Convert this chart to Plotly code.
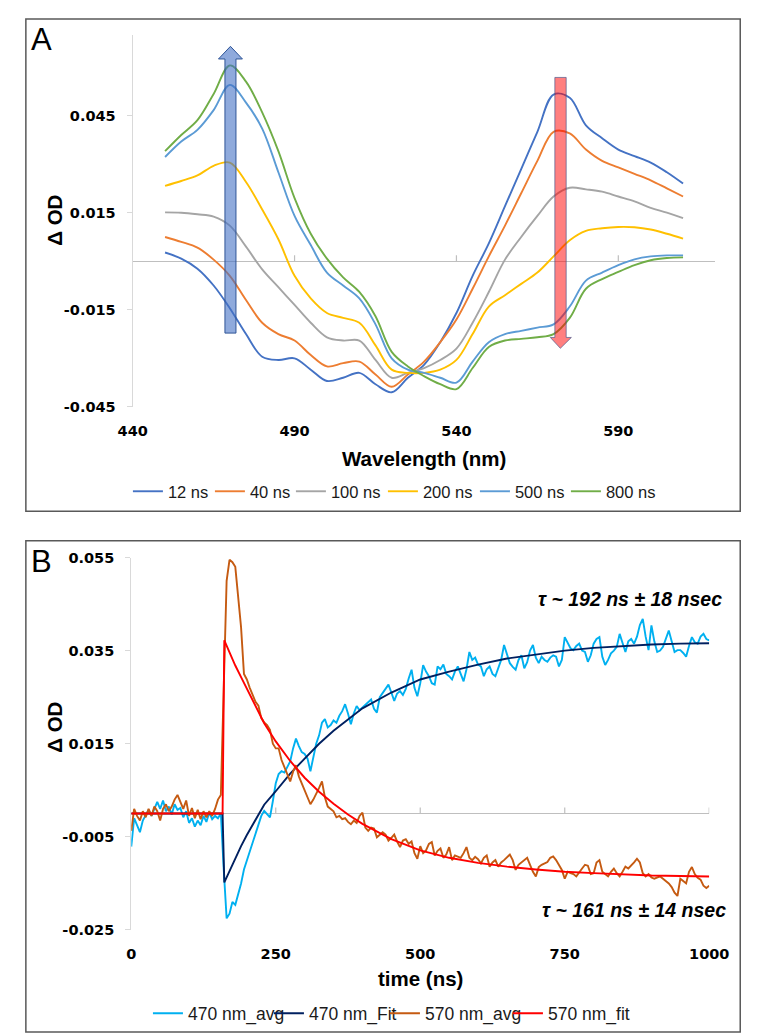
import plotly.graph_objects as go

W, H = 757, 1036

# ---------------- Panel A data ----------------
wavelength = [450, 455, 460, 465, 470, 475, 480, 485, 490, 495, 500, 505, 510, 515, 520, 525,
              530, 535, 540, 545, 550, 555, 560, 565, 570, 575, 580, 585, 590, 595, 600, 605, 610]

od_12ns = [0.0027, 0.0008, -0.0023, -0.0075, -0.0145, -0.0225, -0.0295, -0.0305, -0.0300, -0.0335,
           -0.0370, -0.0360, -0.0345, -0.0380, -0.0405, -0.0360, -0.0320, -0.0250, -0.0160, -0.0045,
           0.0055, 0.0170, 0.0285, 0.0400, 0.0515, 0.0505, 0.0420, 0.0380, 0.0345, 0.0325, 0.0305,
           0.0275, 0.0240]
od_40ns = [0.0075, 0.0060, 0.0042, 0.0005, -0.0045, -0.0120, -0.0190, -0.0225, -0.0245, -0.0290,
           -0.0325, -0.0315, -0.0310, -0.0350, -0.0388, -0.0350, -0.0310, -0.0250, -0.0180, -0.0085,
           0.0015, 0.0110, 0.0210, 0.0310, 0.0400, 0.0395, 0.0345, 0.0310, 0.0290, 0.0270, 0.0250,
           0.0225, 0.0200]
od_100ns = [0.0151, 0.0150, 0.0145, 0.0138, 0.0110, 0.0045, -0.0025, -0.0080, -0.0135, -0.0190,
            -0.0235, -0.0245, -0.0245, -0.0305, -0.0360, -0.0345, -0.0330, -0.0305, -0.0270, -0.0190,
            -0.0095, 0.0005, 0.0075, 0.0140, 0.0200, 0.0227, 0.0222, 0.0215, 0.0200, 0.0185, 0.0165,
            0.0150, 0.0133]
od_200ns = [0.0233, 0.0248, 0.0265, 0.0295, 0.0305, 0.0245, 0.0160, 0.0068, -0.0045, -0.0115,
            -0.0160, -0.0175, -0.0190, -0.0260, -0.0335, -0.0345, -0.0345, -0.0335, -0.0305, -0.0225,
            -0.0140, -0.0105, -0.0070, -0.0035, 0.0015, 0.0065, 0.0094, 0.0102, 0.0106, 0.0105,
            0.0098, 0.0085, 0.0070]
od_500ns = [0.0322, 0.0370, 0.0406, 0.0467, 0.0545, 0.0490, 0.0410, 0.0275, 0.0140, 0.0050,
            -0.0035, -0.0075, -0.0115, -0.0195, -0.0300, -0.0335, -0.0345, -0.0360, -0.0375, -0.0310,
            -0.0250, -0.0225, -0.0215, -0.0205, -0.0195, -0.0140, -0.0060, -0.0035, -0.0012, 0.0006,
            0.0015, 0.0018, 0.0018]
od_800ns = [0.0340, 0.0390, 0.0436, 0.0517, 0.0605, 0.0555, 0.0460, 0.0340, 0.0195, 0.0085,
            0.0008, -0.0050, -0.0095, -0.0170, -0.0280, -0.0325, -0.0355, -0.0380, -0.0395, -0.0330,
            -0.0265, -0.0245, -0.0240, -0.0235, -0.0225, -0.0175, -0.0085, -0.0055, -0.0033, -0.0012,
            0.0003, 0.0010, 0.0012]

series_A_names = ["12 ns", "40 ns", "100 ns", "200 ns", "500 ns", "800 ns"]
series_A_values = [od_12ns, od_40ns, od_100ns, od_200ns, od_500ns, od_800ns]
series_A_colors = ["#4472C4", "#ED7D31", "#A5A5A5", "#FFC000", "#5B9BD5", "#70AD47"]
legend_A_widths = [37, 36, 47, 47, 46, 48]

xA_tickvals = [440, 490, 540, 590]
xA_ticktext = ["440", "490", "540", "590"]
yA_tickvals = [-0.045, -0.015, 0.015, 0.045]
yA_ticktext = ["-0.045", "-0.015", "0.015", "0.045"]

# ---------------- Panel B data ----------------
time_ns = list(range(0, 1001, 5))

nm470_avg = [
    -0.0071, -0.0010, -0.0025, -0.0040, -0.0015, -0.0005, 0.0008, -0.0005, 0.0012, 0.0025,
    0.0010, 0.0028, 0.0005, 0.0015, -0.0002, 0.0020, 0.0008, 0.0012, -0.0008, 0.0005,
    -0.0020, -0.0010, -0.0028, -0.0015, -0.0025, -0.0005, -0.0018, 0.0002, -0.0012, -0.0005,
    -0.0010, 0.0000,
    -0.0120, -0.0225, -0.0215, -0.0190, -0.0196, -0.0175, -0.0150, -0.0120, -0.0100, -0.0080,
    -0.0062, -0.0042, -0.0025, -0.0005, 0.0006, -0.0002, -0.0008, 0.0027,
    0.0065, 0.0085, 0.0091, 0.0088, 0.0100, 0.0112, 0.0140, 0.0161, 0.0145, 0.0132,
    0.0128, 0.0118, 0.0091, 0.0120, 0.0150, 0.0168, 0.0195, 0.0203, 0.0185, 0.0190,
    0.0200, 0.0195, 0.0210, 0.0220, 0.0235, 0.0215, 0.0192, 0.0215, 0.0231, 0.0222,
    0.0228, 0.0235, 0.0240, 0.0245, 0.0225, 0.0217, 0.0250, 0.0259, 0.0270, 0.0277,
    0.0260, 0.0242, 0.0258, 0.0263, 0.0255, 0.0268, 0.0290, 0.0309, 0.0270, 0.0252,
    0.0280, 0.0319, 0.0305, 0.0295, 0.0280, 0.0277, 0.0316, 0.0310, 0.0320, 0.0300,
    0.0295, 0.0288, 0.0305, 0.0316, 0.0300, 0.0284, 0.0310, 0.0347, 0.0330, 0.0335,
    0.0320, 0.0316, 0.0295, 0.0310, 0.0316, 0.0300, 0.0295, 0.0312, 0.0330, 0.0362,
    0.0340, 0.0323, 0.0315, 0.0309, 0.0330, 0.0340, 0.0312, 0.0325, 0.0350, 0.0362,
    0.0335, 0.0323, 0.0337, 0.0330, 0.0326, 0.0335, 0.0340, 0.0337, 0.0316, 0.0330,
    0.0379, 0.0368, 0.0355, 0.0351, 0.0360, 0.0365, 0.0350, 0.0347, 0.0326, 0.0340,
    0.0365, 0.0375, 0.0379, 0.0337, 0.0319, 0.0330, 0.0344, 0.0350, 0.0358, 0.0386,
    0.0365, 0.0347, 0.0370, 0.0375, 0.0365, 0.0380, 0.0405, 0.0418, 0.0380, 0.0351,
    0.0404, 0.0370, 0.0347, 0.0350, 0.0358, 0.0375, 0.0393, 0.0370, 0.0347, 0.0351,
    0.0351, 0.0345, 0.0337, 0.0360, 0.0379, 0.0368, 0.0365, 0.0380, 0.0386, 0.0375,
    0.0372]

nm570_avg = [
    -0.0037, 0.0010, -0.0005, -0.0015, 0.0005, -0.0008, 0.0010, -0.0005, 0.0015, 0.0005,
    -0.0015, 0.0010, 0.0020, 0.0005, 0.0015, 0.0030, 0.0040, 0.0025, 0.0010, 0.0028,
    -0.0005, 0.0012, -0.0010, 0.0008, -0.0012, 0.0005, -0.0008, 0.0005, -0.0005, 0.0010,
    0.0030, 0.0040,
    0.0300, 0.0500, 0.0545, 0.0540, 0.0530, 0.0470, 0.0400, 0.0300, 0.0288, 0.0270,
    0.0255, 0.0240, 0.0232, 0.0205, 0.0196, 0.0190, 0.0180, 0.0150,
    0.0140, 0.0140, 0.0115, 0.0100, 0.0085, 0.0069, 0.0090, 0.0104, 0.0080, 0.0065,
    0.0048, 0.0035, 0.0020, 0.0030, 0.0041, 0.0055, 0.0069, 0.0035, 0.0015, 0.0009,
    0.0005, -0.0008, -0.0005, -0.0012, -0.0010, -0.0018, -0.0023, -0.0015, -0.0020, -0.0005,
    0.0002, -0.0030, -0.0037, -0.0030, -0.0032, -0.0051, -0.0045, -0.0040, -0.0045, -0.0058,
    -0.0052, -0.0045, -0.0060, -0.0072, -0.0058, -0.0055, -0.0065, -0.0060, -0.0085, -0.0097,
    -0.0070, -0.0085, -0.0079, -0.0065, -0.0061, -0.0090, -0.0080, -0.0075, -0.0095, -0.0088,
    -0.0072, -0.0100, -0.0090, -0.0093, -0.0095, -0.0085, -0.0072, -0.0095, -0.0100, -0.0093,
    -0.0098, -0.0107, -0.0095, -0.0090, -0.0114, -0.0105, -0.0100, -0.0114, -0.0105, -0.0100,
    -0.0093, -0.0088, -0.0100, -0.0121, -0.0110, -0.0105, -0.0100, -0.0095, -0.0110, -0.0125,
    -0.0135, -0.0115, -0.0110, -0.0107, -0.0104, -0.0095, -0.0092, -0.0100, -0.0110, -0.0121,
    -0.0140, -0.0125, -0.0128, -0.0130, -0.0135, -0.0125, -0.0118, -0.0110, -0.0112, -0.0130,
    -0.0128, -0.0105, -0.0100, -0.0125, -0.0130, -0.0135, -0.0125, -0.0118, -0.0128, -0.0135,
    -0.0125, -0.0114, -0.0118, -0.0112, -0.0105, -0.0097, -0.0105, -0.0128, -0.0135, -0.0130,
    -0.0137, -0.0140, -0.0138, -0.0135, -0.0140, -0.0145, -0.0150, -0.0158, -0.0170, -0.0177,
    -0.0140, -0.0145, -0.0150, -0.0125, -0.0115, -0.0130, -0.0138, -0.0142, -0.0155, -0.0160,
    -0.0155]

fit_time = [0, 158, 161, 170, 180, 190, 200, 215, 230, 250, 275, 300, 325, 350, 375, 400,
            450, 500, 550, 600, 650, 700, 750, 800, 850, 900, 950, 1000]
nm470_fit = [0.0, 0.0, -0.0148, -0.0123, -0.0096, -0.0070, -0.0046, -0.0012, 0.0019, 0.0048,
             0.0086, 0.0118, 0.0150, 0.0178, 0.0203, 0.0226, 0.0260, 0.0288, 0.0305, 0.0320,
             0.0333, 0.0342, 0.0350, 0.0356, 0.0360, 0.0363, 0.0365, 0.0366]
nm570_fit = [0.0, 0.0, 0.0372, 0.0345, 0.0318, 0.0293, 0.0268, 0.0228, 0.0194, 0.0155,
             0.0113, 0.0077, 0.0047, 0.0021, -0.0002, -0.0022, -0.0055, -0.0079, -0.0095, -0.0106,
             -0.0114, -0.0120, -0.0125, -0.0128, -0.0131, -0.0133, -0.0134, -0.0135]

xB_tickvals = [0, 250, 500, 750, 1000]
xB_ticktext = ["0", "250", "500", "750", "1000"]
yB_tickvals = [-0.025, -0.005, 0.015, 0.035, 0.055]
yB_ticktext = ["-0.025", "-0.005", "0.015", "0.035", "0.055"]

series_B = [
    ("470 nm_avg", time_ns, nm470_avg, "#00B0F0", 76),
    ("470 nm_Fit", fit_time, nm470_fit, "#002060", 71),
    ("570 nm_avg", time_ns, nm570_avg, "#C55A11", 78),
    ("570 nm_fit", fit_time, nm570_fit, "#FF0000", 80),
]

# ---------------- helpers ----------------
def px(x):
    return x / W

def py(y):
    return 1 - y / H

TICK_FONT = dict(family="DejaVu Sans", size=14.5, color="#000000", weight="bold")
TITLE_FONT = dict(family="Liberation Sans", size=20.5, color="#000000", weight="bold")

fig = go.Figure()

for name, vals, col, lw in zip(series_A_names, series_A_values, series_A_colors, legend_A_widths):
    fig.add_trace(go.Scatter(x=wavelength, y=vals, mode="lines", name=name,
                             line=dict(color=col, width=1.9, shape="spline", smoothing=1.0),
                             xaxis="x", yaxis="y", legend="legend", legendwidth=lw))

for name, xs, ys, col, lw in series_B:
    fig.add_trace(go.Scatter(x=xs, y=ys, mode="lines", name=name,
                             line=dict(color=col, width=1.9), xaxis="x2", yaxis="y2",
                             legend="legend2", legendwidth=lw))

common_x = dict(showgrid=False, zeroline=False, showline=False, ticks="", tickfont=TICK_FONT,
                ticklabelstandoff=14, tickmode="array")
common_y = dict(showgrid=False, showline=True, linecolor="#D9D9D9", linewidth=1.2,
                ticks="outside", ticklen=5, tickcolor="#D9D9D9", tickwidth=1.2,
                zeroline=True, zerolinecolor="#BFBFBF", zerolinewidth=1.2,
                tickfont=TICK_FONT, ticklabelstandoff=8, tickmode="array")

fig.update_layout(
    width=W, height=H, autosize=False,
    margin=dict(l=0, r=0, t=0, b=0),
    paper_bgcolor="white", plot_bgcolor="white",
    xaxis=dict(domain=[px(115), px(726)], range=[440, 620], anchor="y",
               tickvals=xA_tickvals, ticktext=xA_ticktext, **common_x),
    yaxis=dict(domain=[py(397), py(19)], range=[-0.045, 0.07], anchor="x",
               tickvals=yA_tickvals, ticktext=yA_ticktext, **common_y),
    xaxis2=dict(domain=[px(113.5), px(719.5)], range=[0, 1000], anchor="y2",
                tickvals=xB_tickvals, ticktext=xB_ticktext, **common_x),
    yaxis2=dict(domain=[py(928.3), py(550)], range=[-0.025, 0.055], anchor="x2",
                tickvals=yB_tickvals, ticktext=yB_ticktext, **common_y),
    legend=dict(orientation="h", x=px(110), xanchor="left", y=py(483), yanchor="middle",
                font=dict(family="Liberation Sans", size=16.5, color="#1a1a1a"),
                bgcolor="rgba(0,0,0,0)", itemwidth=30),
    legend2=dict(orientation="h", x=px(131), xanchor="left", y=py(1013), yanchor="middle",
                 font=dict(family="Liberation Sans", size=17.5, color="#1a1a1a"),
                 bgcolor="rgba(0,0,0,0)", itemwidth=30),
    showlegend=True,
)

shapes = []
# panel borders
shapes.append(dict(type="rect", xref="paper", yref="paper", x0=px(3), x1=px(752), y0=py(503), y1=py(3),
                   line=dict(color="#595959", width=1.5), layer="above"))
shapes.append(dict(type="rect", xref="paper", yref="paper", x0=px(3), x1=px(752), y0=py(1032), y1=py(533),
                   line=dict(color="#595959", width=1.5), layer="above"))
# tick marks on the zero lines
for tv in xA_tickvals[1:]:
    shapes.append(dict(type="line", xref="x", yref="y", x0=tv, x1=tv, ysizemode="pixel", yanchor=0,
                       y0=0, y1=6, line=dict(color="#BFBFBF", width=1.2)))
for tv in xB_tickvals[1:]:
    shapes.append(dict(type="line", xref="x2", yref="y2", x0=tv, x1=tv, ysizemode="pixel", yanchor=0,
                       y0=0, y1=6, line=dict(color="#BFBFBF", width=1.2)))

# block arrows in panel A
blue_arrow = "M 468.5,-0.0222 L 471.9,-0.0222 L 471.9,0.0625 L 473.9,0.0625 L 470.2,0.0664 L 466.5,0.0625 L 468.5,0.0625 Z"
red_arrow = "M 570.4,0.0568 L 573.9,0.0568 L 573.9,-0.02355 L 575.5,-0.02355 L 572.1,-0.0269 L 569.0,-0.02355 L 570.4,-0.02355 Z"
shapes.append(dict(type="path", xref="x", yref="y", path=blue_arrow, fillcolor="rgba(68,114,196,0.6)",
                   line=dict(color="#2F5597", width=1), layer="above"))
shapes.append(dict(type="path", xref="x", yref="y", path=red_arrow, fillcolor="rgba(255,0,0,0.5)",
                   line=dict(color="rgba(80,90,140,0.7)", width=1), layer="above"))
fig.update_layout(shapes=shapes)

annotations = [
    dict(text="A", x=px(19.5), y=py(24), font=dict(family="Liberation Sans", size=31, color="#000")),
    dict(text="B", x=px(19), y=py(554), font=dict(family="Liberation Sans", size=31, color="#000")),
    dict(text="Wavelength (nm)", x=px(420), y=py(449), font=TITLE_FONT),
    dict(text="Δ OD", x=px(33.5), y=py(207), textangle=-90, font=TITLE_FONT),
    dict(text="time (ns)", x=px(417), y=py(978), font=TITLE_FONT),
    dict(text="Δ OD", x=px(33.5), y=py(722), textangle=-90, font=TITLE_FONT),
    dict(text="<i>τ ~ 192 ns ± 18 nsec</i>", x=px(735), y=py(592), xanchor="right",
         font=dict(family="Liberation Sans", size=19.5, color="#000", weight="bold")),
    dict(text="<i>τ ~ 161 ns ± 14 nsec</i>", x=px(739), y=py(908), xanchor="right",
         font=dict(family="Liberation Sans", size=19.5, color="#000", weight="bold")),
]
for a in annotations:
    a.setdefault("xanchor", "center")
    a.update(xref="paper", yref="paper", yanchor="middle", showarrow=False)
fig.update_layout(annotations=annotations)

fig.write_html("out.html", config={"displayModeBar": False, "responsive": False})
